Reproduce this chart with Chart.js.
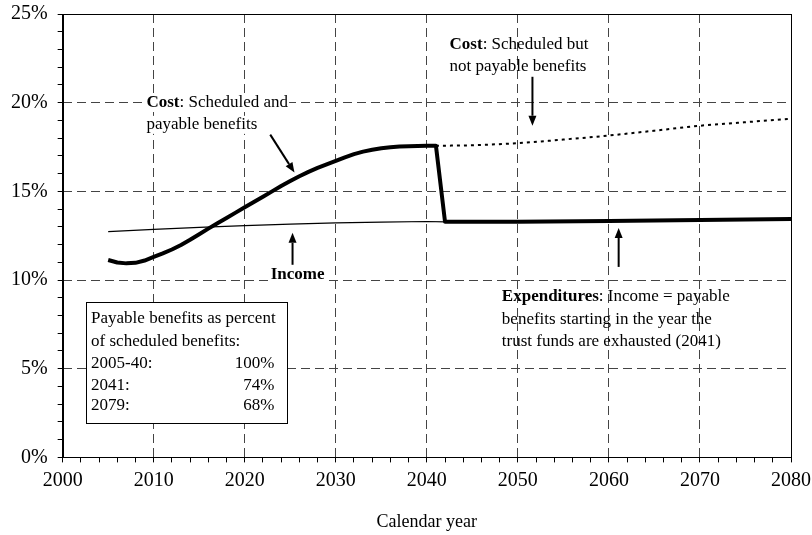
<!DOCTYPE html>
<html>
<head>
<meta charset="utf-8">
<script src="https://cdn.jsdelivr.net/npm/chart.js@4"></script>
<style>
  html, body { margin: 0; padding: 0; background: #fff; }
  #wrap { width: 812px; height: 535px; }
</style>
</head>
<body>
<div id="wrap"><canvas id="chart"></canvas></div>
<script>
// Data (percent of taxable payroll)
const payableYears = [2005, 2006, 2007, 2008, 2009, 2010, 2011, 2012, 2013, 2014, 2015, 2016, 2017, 2018, 2019, 2020, 2021, 2022, 2023, 2024, 2025, 2026, 2027, 2028, 2029, 2030, 2031, 2032, 2033, 2034, 2035, 2036, 2037, 2038, 2039, 2040, 2041, 2042, 2050, 2060, 2070, 2080];
const payableCost = [11.13, 10.99, 10.94, 10.97, 11.1, 11.3, 11.5, 11.72, 11.98, 12.27, 12.58, 12.9, 13.2, 13.5, 13.8, 14.1, 14.4, 14.7, 15.0, 15.3, 15.58, 15.85, 16.1, 16.32, 16.52, 16.72, 16.92, 17.1, 17.24, 17.35, 17.43, 17.49, 17.53, 17.55, 17.56, 17.57, 17.57, 13.28, 13.29, 13.33, 13.38, 13.44];

const incomeYears = [2005, 2010, 2015, 2020, 2025, 2030, 2035, 2040, 2042, 2050, 2060, 2070, 2080];
const incomeRate = [12.73, 12.86, 12.97, 13.07, 13.15, 13.22, 13.27, 13.3, 13.28, 13.29, 13.33, 13.38, 13.44];

const scheduledYears = [2041, 2045, 2050, 2055, 2060, 2065, 2070, 2075, 2080];
const scheduledCost = [17.57, 17.6, 17.72, 17.92, 18.15, 18.42, 18.7, 18.9, 19.09];

const xTickLabels = [2000, 2010, 2020, 2030, 2040, 2050, 2060, 2070, 2080];
const yTickLabels = [0, 5, 10, 15, 20, 25];

const tableRows = [
  ["2005-40:", "100%"],
  ["2041:", "74%"],
  ["2079:", "68%"],
];

const FONT = "'Liberation Serif', 'Times New Roman', serif";

function toPoints(xs, ys) {
  return xs.map((x, i) => ({ x: x, y: ys[i] }));
}

// Text annotations and arrows, placed in data units
const notes = [
  { x: 2009.2, lines: [[["Cost", true], [": Scheduled and", false]], [["payable benefits", false]]], y: [20.0, 18.75], bg: true },
  { x: 2042.5, lines: [[["Cost", true], [": Scheduled but", false]], [["not payable benefits", false]]], y: [23.27, 22.03], bg: false },
  { x: 2048.24, lines: [[["Expenditures", true], [": Income = payable", false]], [["benefits starting in the year the", false]], [["trust funds are exhausted (2041)", false]]], y: [9.06, 7.8, 6.56], bg: false },
];
const arrows = [
  { from: [2022.8, 18.2], to: [2025.46, 16.06] },
  { from: [2025.25, 10.86], to: [2025.25, 12.66] },
  { from: [2051.6, 21.46], to: [2051.6, 18.7] },
  { from: [2061.07, 10.74], to: [2061.07, 12.94] },
];

function drawArrow(ctx, x1, y1, x2, y2) {
  const ang = Math.atan2(y2 - y1, x2 - x1);
  const len = 10, half = 4;
  const bx = x2 - len * Math.cos(ang), by = y2 - len * Math.sin(ang);
  ctx.beginPath();
  ctx.moveTo(x1, y1);
  ctx.lineTo(bx, by);
  ctx.lineWidth = 2;
  ctx.strokeStyle = "#000";
  ctx.stroke();
  ctx.beginPath();
  ctx.moveTo(x2, y2);
  ctx.lineTo(bx + half * Math.sin(ang), by - half * Math.cos(ang));
  ctx.lineTo(bx - half * Math.sin(ang), by + half * Math.cos(ang));
  ctx.closePath();
  ctx.fillStyle = "#000";
  ctx.fill();
}

const annotationPlugin = {
  id: "annotations",
  afterDatasetsDraw(chart) {
    const ctx = chart.ctx;
    const xs = chart.scales.x, ys = chart.scales.y;
    const area = chart.chartArea;
    ctx.save();

    // frame around plot
    ctx.strokeStyle = "#000";
    ctx.lineWidth = 1;
    ctx.strokeRect(Math.round(area.left) + 0.5, Math.round(area.top) + 0.5,
      Math.round(area.right - area.left), Math.round(area.bottom - area.top));

    ctx.textBaseline = "middle";
    ctx.textAlign = "left";

    notes.forEach(n => {
      n.lines.forEach((segs, li) => {
        let px = xs.getPixelForValue(n.x);
        const py = ys.getPixelForValue(n.y[li]);
        if (n.bg) {
          let w = 0;
          segs.forEach(s => { ctx.font = (s[1] ? "bold " : "") + "17px " + FONT; w += ctx.measureText(s[0]).width; });
          ctx.fillStyle = "#fff";
          ctx.fillRect(px - 1, py - 9, w + 2, 18);
        }
        segs.forEach(s => {
          ctx.font = (s[1] ? "bold " : "") + "17px " + FONT;
          ctx.fillStyle = "#000";
          ctx.fillText(s[0], px, py);
          px += ctx.measureText(s[0]).width;
        });
      });
    });

    // Income label
    ctx.font = "bold 17px " + FONT;
    ctx.textAlign = "center";
    const ix = xs.getPixelForValue(2025.8), iy = ys.getPixelForValue(10.3);
    const iw = ctx.measureText("Income").width;
    ctx.fillStyle = "#fff";
    ctx.fillRect(ix - iw / 2 - 1, iy - 9, iw + 2, 18);
    ctx.fillStyle = "#000";
    ctx.fillText("Income", ix, iy);

    arrows.forEach(a => {
      drawArrow(ctx, xs.getPixelForValue(a.from[0]), ys.getPixelForValue(a.from[1]),
        xs.getPixelForValue(a.to[0]), ys.getPixelForValue(a.to[1]));
    });

    // table box
    const bl = Math.round(xs.getPixelForValue(2002.57)) + 0.5;
    const br = Math.round(xs.getPixelForValue(2024.62)) + 0.5;
    const bt = Math.round(ys.getPixelForValue(8.78)) + 0.5;
    const bb = Math.round(ys.getPixelForValue(1.92)) + 0.5;
    ctx.fillStyle = "#fff";
    ctx.fillRect(bl, bt, br - bl, bb - bt);
    ctx.strokeStyle = "#000";
    ctx.lineWidth = 1;
    ctx.strokeRect(bl, bt, br - bl, bb - bt);
    ctx.font = "17px " + FONT;
    ctx.fillStyle = "#000";
    ctx.textAlign = "left";
    const tx = xs.getPixelForValue(2003.12), tr = xs.getPixelForValue(2023.26);
    ctx.fillText("Payable benefits as percent", tx, ys.getPixelForValue(7.84));
    ctx.fillText("of scheduled benefits:", tx, ys.getPixelForValue(6.56));
    const rowY = [5.3, 4.08, 2.91];
    tableRows.forEach((r, i) => {
      ctx.textAlign = "left";
      ctx.fillText(r[0], tx, ys.getPixelForValue(rowY[i]));
      ctx.textAlign = "right";
      ctx.fillText(r[1], tr, ys.getPixelForValue(rowY[i]));
    });
    ctx.restore();
  },
};

const gridColor = (labels, lo, hi) => (c) => {
  const v = c.tick ? c.tick.value : null;
  if (v === null || v === lo || v === hi) return "rgba(0,0,0,0)";
  return labels.includes(v) ? "#444" : "rgba(0,0,0,0)";
};

new Chart(document.getElementById("chart"), {
  type: "line",
  data: {
    datasets: [
      {
        label: "Income",
        data: toPoints(incomeYears, incomeRate),
        borderColor: "#000",
        borderWidth: 1.2,
        pointRadius: 0,
        tension: 0,
      },
      {
        label: "Cost: Scheduled but not payable benefits",
        data: toPoints(scheduledYears, scheduledCost),
        borderColor: "#000",
        borderWidth: 2,
        borderDash: [3, 4],
        pointRadius: 0,
        cubicInterpolationMode: "monotone",
      },
      {
        label: "Cost: Scheduled and payable benefits",
        data: toPoints(payableYears, payableCost),
        borderColor: "#000",
        borderWidth: 4,
        borderJoinStyle: "round",
        pointRadius: 0,
        tension: 0,
      },
    ],
  },
  options: {
    responsive: true,
    maintainAspectRatio: false,
    animation: false,
    layout: { padding: { left: 1, top: 0, right: 0, bottom: 1 } },
    plugins: {
      legend: { display: false },
      tooltip: { enabled: false },
    },
    scales: {
      x: {
        type: "linear",
        min: 2000,
        max: 2080,
        afterFit: (scale) => { scale.paddingRight = 21; },
        border: { display: true, color: "#000", width: 1, dash: [9, 5] },
        grid: {
          color: gridColor(xTickLabels, 2000, 2080),
          lineWidth: 1,
          tickColor: "#000",
          tickLength: 5,
        },
        ticks: {
          stepSize: 2,
          autoSkip: false,
          maxRotation: 0,
          padding: 6,
          color: "#000",
          font: { family: FONT, size: 20 },
          callback: (v) => (xTickLabels.includes(v) ? String(v) : ""),
        },
        title: {
          display: true,
          text: "Calendar year",
          color: "#000",
          font: { family: FONT, size: 18 },
          padding: { top: 13, bottom: 1 },
        },
      },
      y: {
        min: 0,
        max: 25,
        afterFit: (scale) => { scale.paddingTop = 14; },
        border: { display: true, color: "#000", width: 1, dash: [9, 5] },
        grid: {
          color: gridColor(yTickLabels, 0, 25),
          lineWidth: 1,
          tickColor: "#000",
          tickLength: 5,
        },
        ticks: {
          stepSize: 1,
          autoSkip: false,
          padding: 10,
          color: "#000",
          font: { family: FONT, size: 20 },
          callback: (v) => (yTickLabels.includes(v) ? v + "%" : ""),
        },
      },
    },
  },
  plugins: [annotationPlugin],
});
</script>
</body>
</html>
